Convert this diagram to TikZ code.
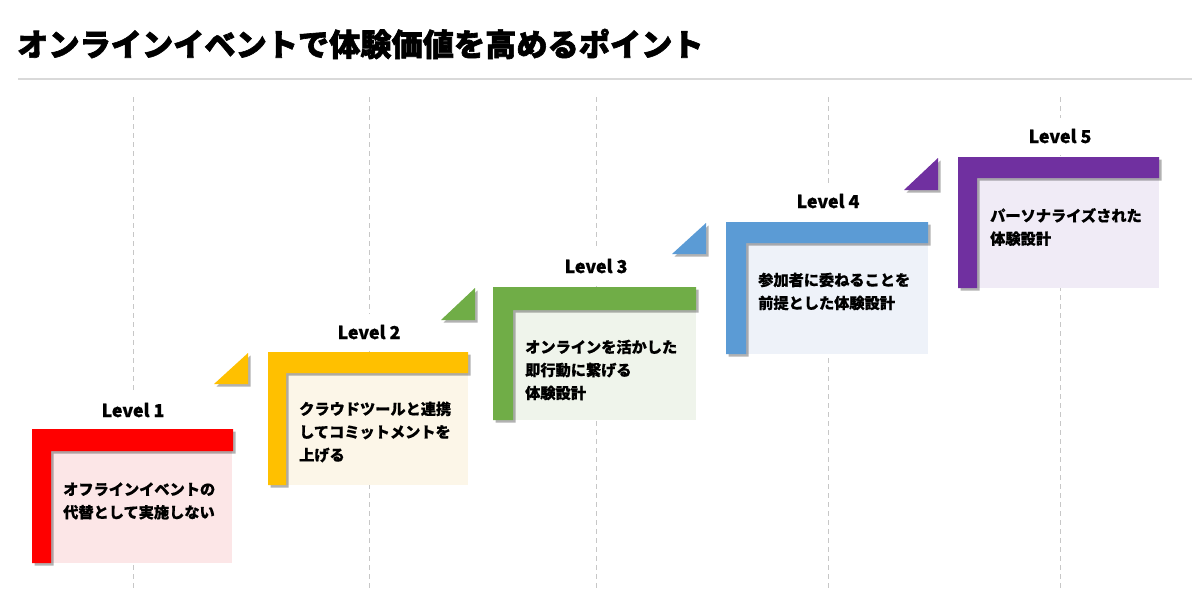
\documentclass[tikz,border=0pt]{standalone}
\usepackage{fontspec}
\setmainfont{Noto Sans CJK JP}[BoldFeatures={FakeBold=0.6}]
\newfontfamily\titlefont{Noto Sans CJK JP}[BoldFeatures={FakeBold=2}]
\usetikzlibrary{shadows}
\definecolor{c1}{HTML}{FF0000}\definecolor{f1}{HTML}{FCE6E7}
\definecolor{c2}{HTML}{FFC000}\definecolor{f2}{HTML}{FCF6E8}
\definecolor{c3}{HTML}{70AD47}\definecolor{f3}{HTML}{EFF4EB}
\definecolor{c4}{HTML}{5B9BD5}\definecolor{f4}{HTML}{EEF2F9}
\definecolor{c5}{HTML}{7030A0}\definecolor{f5}{HTML}{F0EBF6}
\tikzset{
  sh/.style={drop shadow={shadow xshift=2.5pt,shadow yshift=-2.5pt,opacity=0.3,fill=black}},
  lbar/.style={fill=#1,sh},
  tri/.style={fill=#1,sh},
  panel/.style={fill=#1,draw=none,inner sep=0pt,anchor=north west},
  lvl/.style={font=\bfseries\fontsize{17.8}{20}\selectfont,fill=white,inner xsep=4pt,inner ysep=12pt,text height=13pt,text depth=0pt,anchor=base},
  body/.style={font=\bfseries\fontsize{15.2}{23}\selectfont,align=left,anchor=west,inner sep=0pt},
  guide/.style={draw=black!22,line width=1pt,dash pattern=on 5pt off 4pt},
  ttl/.style={font=\titlefont\bfseries\fontsize{31.2}{34}\selectfont,anchor=west,inner sep=0pt}
}
\begin{document}
\begin{tikzpicture}[x=1pt,y=-1pt]
\useasboundingbox[fill=white] (0,0) rectangle (1200,592);
% title
\node[ttl] (title) at (17,44) {オンラインイベントで体験価値を高めるポイント};
\coordinate (r0) at (18,79);
\coordinate (r1) at (1192,79);
\draw[black!15,line width=1.5pt] (r0) -- (r1);
% guides
\foreach \i/\x in {1/133,2/369,3/596,4/828,5/1060}{
  \coordinate (gt\i) at (\x,97);
  \coordinate (gb\i) at (\x,590);
  \draw[guide] (gt\i) -- (gb\i);
}
% Level 1
\node[panel=f1,minimum width=181pt,minimum height=112pt] (p1) at (51,451) {};
\fill[lbar=c1] (32,429) -- (233,429) -- (233,451) -- (51,451) -- (51,563) -- (32,563) -- cycle;
\node[lvl] (l1) at (133,417) {Level 1};
\node[body] (t1) at (63,501) {オフラインイベントの\\代替として実施しない};
% Level 2
\node[panel=f2,minimum width=182pt,minimum height=112pt] (p2) at (286,373) {};
\fill[lbar=c2] (268,352) -- (468,352) -- (468,373) -- (286,373) -- (286,485) -- (268,485) -- cycle;
\fill[tri=c2] (214,384) -- (248,353) -- (248,384) -- cycle;
\node[lvl] (l2) at (369,339) {Level 2};
\node[body] (t2) at (299,432) {クラウドツールと連携\\してコミットメントを\\上げる};
% Level 3
\node[panel=f3,minimum width=183pt,minimum height=110pt] (p3) at (513,310) {};
\fill[lbar=c3] (493,287) -- (696,287) -- (696,310) -- (513,310) -- (513,420) -- (493,420) -- cycle;
\fill[tri=c3] (441,320) -- (475,288) -- (475,320) -- cycle;
\node[lvl] (l3) at (596,273) {Level 3};
\node[body] (t3) at (525,370) {オンラインを活かした\\即行動に繋げる\\体験設計};
% Level 4
\node[panel=f4,minimum width=182pt,minimum height=111pt] (p4) at (746,243) {};
\fill[lbar=c4] (726,222) -- (928,222) -- (928,243) -- (746,243) -- (746,354) -- (726,354) -- cycle;
\fill[tri=c4] (672,254) -- (706,223) -- (706,254) -- cycle;
\node[lvl] (l4) at (828,208) {Level 4};
\node[body] (t4) at (758,291.5) {参加者に委ねることを\\前提とした体験設計};
% Level 5
\node[panel=f5,minimum width=182pt,minimum height=110pt] (p5) at (977,178) {};
\fill[lbar=c5] (958,157) -- (1159,157) -- (1159,178) -- (977,178) -- (977,288) -- (958,288) -- cycle;
\fill[tri=c5] (904,190) -- (938,158) -- (938,190) -- cycle;
\node[lvl] (l5) at (1060,143) {Level 5};
\node[body] (t5) at (990,227) {パーソナライズされた\\体験設計};
\end{tikzpicture}
\end{document}
